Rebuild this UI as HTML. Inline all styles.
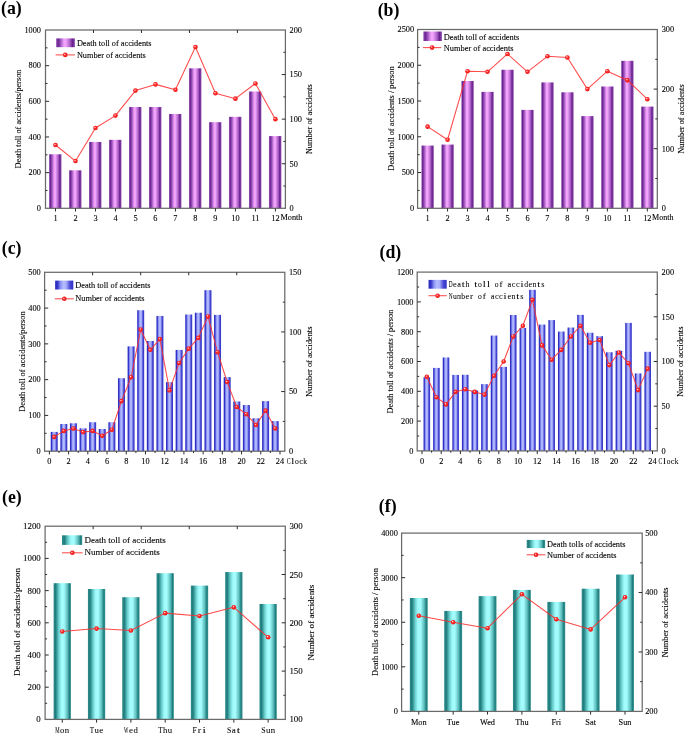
<!DOCTYPE html>
<html><head><meta charset="utf-8"><title>Accident statistics</title><style>html,body{margin:0;padding:0;background:#fff;width:685px;height:735px;overflow:hidden;}svg{display:block;font-family:"Liberation Serif",serif;will-change:transform;}text{stroke:#000;stroke-width:0.1px;}</style></head><body>
<svg width="685" height="735" viewBox="0 0 685 735"><defs><linearGradient id="gP" x1="0" y1="0" x2="1" y2="0"><stop offset="0" stop-color="#a066bc"/><stop offset="0.1" stop-color="#6a2190"/><stop offset="0.2" stop-color="#8c46b0"/><stop offset="0.42" stop-color="#f3a3fb"/><stop offset="0.52" stop-color="#f2a2fa"/><stop offset="0.74" stop-color="#a860c6"/><stop offset="0.87" stop-color="#6a1f8e"/><stop offset="1" stop-color="#9050ae"/></linearGradient><linearGradient id="gB" x1="0" y1="0" x2="1" y2="0"><stop offset="0" stop-color="#3535c8"/><stop offset="0.12" stop-color="#2e2ec4"/><stop offset="0.3" stop-color="#8c94f4"/><stop offset="0.45" stop-color="#b4bcff"/><stop offset="0.6" stop-color="#aab2fc"/><stop offset="0.82" stop-color="#4848d4"/><stop offset="1" stop-color="#3030c4"/></linearGradient><linearGradient id="gT" x1="0" y1="0" x2="1" y2="0"><stop offset="0" stop-color="#2f8c8c"/><stop offset="0.12" stop-color="#1f7d7d"/><stop offset="0.3" stop-color="#6cd0d0"/><stop offset="0.45" stop-color="#a2fbfb"/><stop offset="0.6" stop-color="#a4fcfc"/><stop offset="0.8" stop-color="#5cbcbc"/><stop offset="0.92" stop-color="#1e7e7e"/><stop offset="1" stop-color="#3a9494"/></linearGradient><radialGradient id="gM" cx="0.5" cy="0.5" r="0.5" fx="0.36" fy="0.33"><stop offset="0" stop-color="#fff2f2"/><stop offset="0.2" stop-color="#ff9a9a"/><stop offset="0.42" stop-color="#ff3232"/><stop offset="1" stop-color="#ec1212"/></radialGradient></defs><rect width="685" height="735" fill="#ffffff"/><rect x="49.05" y="154.28" width="12.4" height="54.02" fill="url(#gP)"/>
<rect x="69.04" y="170.32" width="12.4" height="37.98" fill="url(#gP)"/>
<rect x="89.03" y="141.97" width="12.4" height="66.33" fill="url(#gP)"/>
<rect x="109.02" y="139.83" width="12.4" height="68.47" fill="url(#gP)"/>
<rect x="129.01" y="107.03" width="12.4" height="101.27" fill="url(#gP)"/>
<rect x="149" y="107.03" width="12.4" height="101.27" fill="url(#gP)"/>
<rect x="169" y="113.98" width="12.4" height="94.32" fill="url(#gP)"/>
<rect x="188.99" y="68.33" width="12.4" height="139.97" fill="url(#gP)"/>
<rect x="208.98" y="122.18" width="12.4" height="86.12" fill="url(#gP)"/>
<rect x="228.97" y="116.83" width="12.4" height="91.47" fill="url(#gP)"/>
<rect x="248.96" y="91.51" width="12.4" height="116.79" fill="url(#gP)"/>
<rect x="268.95" y="136.09" width="12.4" height="72.21" fill="url(#gP)"/>
<polyline points="55.5,145 75.49,161.05 95.48,128.06 115.47,115.58 135.46,90.62 155.45,84.38 175.45,89.73 195.44,46.94 215.43,93.3 235.42,98.65 255.41,83.49 275.4,119.15" fill="none" stroke="#ff2a2a" stroke-width="1.05" stroke-opacity="0.85" stroke-linejoin="round"/>
<circle cx="55.5" cy="145" r="2.3" fill="url(#gM)"/>
<circle cx="75.49" cy="161.05" r="2.3" fill="url(#gM)"/>
<circle cx="95.48" cy="128.06" r="2.3" fill="url(#gM)"/>
<circle cx="115.47" cy="115.58" r="2.3" fill="url(#gM)"/>
<circle cx="135.46" cy="90.62" r="2.3" fill="url(#gM)"/>
<circle cx="155.45" cy="84.38" r="2.3" fill="url(#gM)"/>
<circle cx="175.45" cy="89.73" r="2.3" fill="url(#gM)"/>
<circle cx="195.44" cy="46.94" r="2.3" fill="url(#gM)"/>
<circle cx="215.43" cy="93.3" r="2.3" fill="url(#gM)"/>
<circle cx="235.42" cy="98.65" r="2.3" fill="url(#gM)"/>
<circle cx="255.41" cy="83.49" r="2.3" fill="url(#gM)"/>
<circle cx="275.4" cy="119.15" r="2.3" fill="url(#gM)"/>
<rect x="45.5" y="30" width="239.9" height="178.3" fill="none" stroke="#6a6a6a" stroke-width="1.25"/>
<text x="41" y="211.12" font-size="8.3" font-family="'Liberation Serif', serif" fill="#000000" text-anchor="end">0</text>
<line x1="45.5" y1="190.47" x2="47.5" y2="190.47" stroke="#2b2b2b" stroke-width="1"/>
<line x1="45.5" y1="172.64" x2="49.1" y2="172.64" stroke="#2b2b2b" stroke-width="1"/>
<text x="41" y="175.46" font-size="8.3" font-family="'Liberation Serif', serif" fill="#000000" text-anchor="end">200</text>
<line x1="45.5" y1="154.81" x2="47.5" y2="154.81" stroke="#2b2b2b" stroke-width="1"/>
<line x1="45.5" y1="136.98" x2="49.1" y2="136.98" stroke="#2b2b2b" stroke-width="1"/>
<text x="41" y="139.8" font-size="8.3" font-family="'Liberation Serif', serif" fill="#000000" text-anchor="end">400</text>
<line x1="45.5" y1="119.15" x2="47.5" y2="119.15" stroke="#2b2b2b" stroke-width="1"/>
<line x1="45.5" y1="101.32" x2="49.1" y2="101.32" stroke="#2b2b2b" stroke-width="1"/>
<text x="41" y="104.14" font-size="8.3" font-family="'Liberation Serif', serif" fill="#000000" text-anchor="end">600</text>
<line x1="45.5" y1="83.49" x2="47.5" y2="83.49" stroke="#2b2b2b" stroke-width="1"/>
<line x1="45.5" y1="65.66" x2="49.1" y2="65.66" stroke="#2b2b2b" stroke-width="1"/>
<text x="41" y="68.48" font-size="8.3" font-family="'Liberation Serif', serif" fill="#000000" text-anchor="end">800</text>
<line x1="45.5" y1="47.83" x2="47.5" y2="47.83" stroke="#2b2b2b" stroke-width="1"/>
<text x="41" y="32.82" font-size="8.3" font-family="'Liberation Serif', serif" fill="#000000" text-anchor="end">1000</text>
<text x="289.5" y="211.12" font-size="8.3" font-family="'Liberation Serif', serif" fill="#000000">0</text>
<line x1="285.4" y1="186.01" x2="283.4" y2="186.01" stroke="#2b2b2b" stroke-width="1"/>
<line x1="285.4" y1="163.73" x2="281.8" y2="163.73" stroke="#2b2b2b" stroke-width="1"/>
<text x="289.5" y="166.55" font-size="8.3" font-family="'Liberation Serif', serif" fill="#000000">50</text>
<line x1="285.4" y1="141.44" x2="283.4" y2="141.44" stroke="#2b2b2b" stroke-width="1"/>
<line x1="285.4" y1="119.15" x2="281.8" y2="119.15" stroke="#2b2b2b" stroke-width="1"/>
<text x="289.5" y="121.97" font-size="8.3" font-family="'Liberation Serif', serif" fill="#000000">100</text>
<line x1="285.4" y1="96.86" x2="283.4" y2="96.86" stroke="#2b2b2b" stroke-width="1"/>
<line x1="285.4" y1="74.57" x2="281.8" y2="74.57" stroke="#2b2b2b" stroke-width="1"/>
<text x="289.5" y="77.4" font-size="8.3" font-family="'Liberation Serif', serif" fill="#000000">150</text>
<line x1="285.4" y1="52.29" x2="283.4" y2="52.29" stroke="#2b2b2b" stroke-width="1"/>
<text x="289.5" y="32.82" font-size="8.3" font-family="'Liberation Serif', serif" fill="#000000">200</text>
<line x1="55.5" y1="208.3" x2="55.5" y2="211.5" stroke="#2b2b2b" stroke-width="1"/>
<text x="55.5" y="220.7" font-size="8.3" font-family="'Liberation Serif', serif" fill="#000000" text-anchor="middle">1</text>
<line x1="75.49" y1="208.3" x2="75.49" y2="211.5" stroke="#2b2b2b" stroke-width="1"/>
<text x="75.49" y="220.7" font-size="8.3" font-family="'Liberation Serif', serif" fill="#000000" text-anchor="middle">2</text>
<line x1="95.48" y1="208.3" x2="95.48" y2="211.5" stroke="#2b2b2b" stroke-width="1"/>
<text x="95.48" y="220.7" font-size="8.3" font-family="'Liberation Serif', serif" fill="#000000" text-anchor="middle">3</text>
<line x1="115.47" y1="208.3" x2="115.47" y2="211.5" stroke="#2b2b2b" stroke-width="1"/>
<text x="115.47" y="220.7" font-size="8.3" font-family="'Liberation Serif', serif" fill="#000000" text-anchor="middle">4</text>
<line x1="135.46" y1="208.3" x2="135.46" y2="211.5" stroke="#2b2b2b" stroke-width="1"/>
<text x="135.46" y="220.7" font-size="8.3" font-family="'Liberation Serif', serif" fill="#000000" text-anchor="middle">5</text>
<line x1="155.45" y1="208.3" x2="155.45" y2="211.5" stroke="#2b2b2b" stroke-width="1"/>
<text x="155.45" y="220.7" font-size="8.3" font-family="'Liberation Serif', serif" fill="#000000" text-anchor="middle">6</text>
<line x1="175.45" y1="208.3" x2="175.45" y2="211.5" stroke="#2b2b2b" stroke-width="1"/>
<text x="175.45" y="220.7" font-size="8.3" font-family="'Liberation Serif', serif" fill="#000000" text-anchor="middle">7</text>
<line x1="195.44" y1="208.3" x2="195.44" y2="211.5" stroke="#2b2b2b" stroke-width="1"/>
<text x="195.44" y="220.7" font-size="8.3" font-family="'Liberation Serif', serif" fill="#000000" text-anchor="middle">8</text>
<line x1="215.43" y1="208.3" x2="215.43" y2="211.5" stroke="#2b2b2b" stroke-width="1"/>
<text x="215.43" y="220.7" font-size="8.3" font-family="'Liberation Serif', serif" fill="#000000" text-anchor="middle">9</text>
<line x1="235.42" y1="208.3" x2="235.42" y2="211.5" stroke="#2b2b2b" stroke-width="1"/>
<text x="235.42" y="220.7" font-size="8.3" font-family="'Liberation Serif', serif" fill="#000000" text-anchor="middle">10</text>
<line x1="255.41" y1="208.3" x2="255.41" y2="211.5" stroke="#2b2b2b" stroke-width="1"/>
<text x="255.41" y="220.7" font-size="8.3" font-family="'Liberation Serif', serif" fill="#000000" text-anchor="middle">11</text>
<line x1="275.4" y1="208.3" x2="275.4" y2="211.5" stroke="#2b2b2b" stroke-width="1"/>
<text x="275.4" y="220.7" font-size="8.3" font-family="'Liberation Serif', serif" fill="#000000" text-anchor="middle">12</text>
<line x1="93.48" y1="30" x2="93.48" y2="33" stroke="#2b2b2b" stroke-width="1"/>
<line x1="141.46" y1="30" x2="141.46" y2="33" stroke="#2b2b2b" stroke-width="1"/>
<line x1="189.44" y1="30" x2="189.44" y2="33" stroke="#2b2b2b" stroke-width="1"/>
<line x1="237.42" y1="30" x2="237.42" y2="33" stroke="#2b2b2b" stroke-width="1"/>
<rect x="56.1" y="38.4" width="18.8" height="8.8" fill="url(#gP)"/>
<line x1="55.6" y1="54.9" x2="74.9" y2="54.9" stroke="#ff2a2a" stroke-width="1.05" stroke-opacity="0.85"/>
<circle cx="65.25" cy="54.9" r="2.3" fill="url(#gM)"/>
<text x="76.9" y="46" font-size="8.3" font-family="'Liberation Serif', serif" fill="#000000" textLength="74.7" lengthAdjust="spacingAndGlyphs">Death toll of accidents</text>
<text x="76.9" y="57.7" font-size="8.3" font-family="'Liberation Serif', serif" fill="#000000" textLength="68.9" lengthAdjust="spacingAndGlyphs">Number of accidents</text>
<text x="21.3" y="119" font-size="8.3" font-family="'Liberation Serif', serif" fill="#000000" text-anchor="middle" textLength="99" lengthAdjust="spacingAndGlyphs" transform="rotate(-90 21.3 119)">Death toll of accidents/person</text>
<text x="311.9" y="119.2" font-size="8.3" font-family="'Liberation Serif', serif" fill="#000000" text-anchor="middle" textLength="70" lengthAdjust="spacingAndGlyphs" transform="rotate(-90 311.9 119.2)">Number of accidents</text>
<text x="280.5" y="220.1" font-size="8.3" font-family="'Liberation Serif', serif" fill="#000000" textLength="22" lengthAdjust="spacingAndGlyphs">Month</text>
<text x="1" y="13.9" font-size="17.8" font-family="'Liberation Serif', serif" fill="#000000" font-weight="bold" style="stroke:none">(a)</text>
<rect x="421.39" y="145.58" width="12.4" height="62.72" fill="url(#gP)"/>
<rect x="441.36" y="144.58" width="12.4" height="63.72" fill="url(#gP)"/>
<rect x="461.34" y="80.99" width="12.4" height="127.31" fill="url(#gP)"/>
<rect x="481.31" y="91.87" width="12.4" height="116.43" fill="url(#gP)"/>
<rect x="501.29" y="69.77" width="12.4" height="138.53" fill="url(#gP)"/>
<rect x="521.26" y="109.89" width="12.4" height="98.41" fill="url(#gP)"/>
<rect x="541.24" y="82.42" width="12.4" height="125.88" fill="url(#gP)"/>
<rect x="561.21" y="92.29" width="12.4" height="116.01" fill="url(#gP)"/>
<rect x="581.19" y="116.11" width="12.4" height="92.19" fill="url(#gP)"/>
<rect x="601.16" y="86.5" width="12.4" height="121.8" fill="url(#gP)"/>
<rect x="621.14" y="60.83" width="12.4" height="147.47" fill="url(#gP)"/>
<rect x="641.11" y="106.6" width="12.4" height="101.7" fill="url(#gP)"/>
<polyline points="427.59,126.65 447.56,139.76 467.54,71.22 487.51,71.82 507.49,53.94 527.46,71.82 547.44,56.32 567.41,57.51 587.39,89.1 607.36,71.22 627.34,80.16 647.31,99.23" fill="none" stroke="#ff2a2a" stroke-width="1.05" stroke-opacity="0.85" stroke-linejoin="round"/>
<circle cx="427.59" cy="126.65" r="2.3" fill="url(#gM)"/>
<circle cx="447.56" cy="139.76" r="2.3" fill="url(#gM)"/>
<circle cx="467.54" cy="71.22" r="2.3" fill="url(#gM)"/>
<circle cx="487.51" cy="71.82" r="2.3" fill="url(#gM)"/>
<circle cx="507.49" cy="53.94" r="2.3" fill="url(#gM)"/>
<circle cx="527.46" cy="71.82" r="2.3" fill="url(#gM)"/>
<circle cx="547.44" cy="56.32" r="2.3" fill="url(#gM)"/>
<circle cx="567.41" cy="57.51" r="2.3" fill="url(#gM)"/>
<circle cx="587.39" cy="89.1" r="2.3" fill="url(#gM)"/>
<circle cx="607.36" cy="71.22" r="2.3" fill="url(#gM)"/>
<circle cx="627.34" cy="80.16" r="2.3" fill="url(#gM)"/>
<circle cx="647.31" cy="99.23" r="2.3" fill="url(#gM)"/>
<rect x="417.6" y="29.5" width="239.7" height="178.8" fill="none" stroke="#6a6a6a" stroke-width="1.25"/>
<text x="414.1" y="211.12" font-size="8.3" font-family="'Liberation Serif', serif" fill="#000000" text-anchor="end">0</text>
<line x1="417.6" y1="190.42" x2="419.6" y2="190.42" stroke="#2b2b2b" stroke-width="1"/>
<line x1="417.6" y1="172.54" x2="421.2" y2="172.54" stroke="#2b2b2b" stroke-width="1"/>
<text x="414.1" y="175.36" font-size="8.3" font-family="'Liberation Serif', serif" fill="#000000" text-anchor="end">500</text>
<line x1="417.6" y1="154.66" x2="419.6" y2="154.66" stroke="#2b2b2b" stroke-width="1"/>
<line x1="417.6" y1="136.78" x2="421.2" y2="136.78" stroke="#2b2b2b" stroke-width="1"/>
<text x="414.1" y="139.6" font-size="8.3" font-family="'Liberation Serif', serif" fill="#000000" text-anchor="end">1000</text>
<line x1="417.6" y1="118.9" x2="419.6" y2="118.9" stroke="#2b2b2b" stroke-width="1"/>
<line x1="417.6" y1="101.02" x2="421.2" y2="101.02" stroke="#2b2b2b" stroke-width="1"/>
<text x="414.1" y="103.84" font-size="8.3" font-family="'Liberation Serif', serif" fill="#000000" text-anchor="end">1500</text>
<line x1="417.6" y1="83.14" x2="419.6" y2="83.14" stroke="#2b2b2b" stroke-width="1"/>
<line x1="417.6" y1="65.26" x2="421.2" y2="65.26" stroke="#2b2b2b" stroke-width="1"/>
<text x="414.1" y="68.08" font-size="8.3" font-family="'Liberation Serif', serif" fill="#000000" text-anchor="end">2000</text>
<line x1="417.6" y1="47.38" x2="419.6" y2="47.38" stroke="#2b2b2b" stroke-width="1"/>
<text x="414.1" y="32.32" font-size="8.3" font-family="'Liberation Serif', serif" fill="#000000" text-anchor="end">2500</text>
<text x="661.7" y="211.12" font-size="8.3" font-family="'Liberation Serif', serif" fill="#000000">0</text>
<line x1="657.3" y1="178.5" x2="655.3" y2="178.5" stroke="#2b2b2b" stroke-width="1"/>
<line x1="657.3" y1="148.7" x2="653.7" y2="148.7" stroke="#2b2b2b" stroke-width="1"/>
<text x="661.7" y="151.52" font-size="8.3" font-family="'Liberation Serif', serif" fill="#000000">100</text>
<line x1="657.3" y1="118.9" x2="655.3" y2="118.9" stroke="#2b2b2b" stroke-width="1"/>
<line x1="657.3" y1="89.1" x2="653.7" y2="89.1" stroke="#2b2b2b" stroke-width="1"/>
<text x="661.7" y="91.92" font-size="8.3" font-family="'Liberation Serif', serif" fill="#000000">200</text>
<line x1="657.3" y1="59.3" x2="655.3" y2="59.3" stroke="#2b2b2b" stroke-width="1"/>
<text x="661.7" y="32.32" font-size="8.3" font-family="'Liberation Serif', serif" fill="#000000">300</text>
<line x1="427.59" y1="208.3" x2="427.59" y2="211.5" stroke="#2b2b2b" stroke-width="1"/>
<text x="427.59" y="220.7" font-size="8.3" font-family="'Liberation Serif', serif" fill="#000000" text-anchor="middle">1</text>
<line x1="447.56" y1="208.3" x2="447.56" y2="211.5" stroke="#2b2b2b" stroke-width="1"/>
<text x="447.56" y="220.7" font-size="8.3" font-family="'Liberation Serif', serif" fill="#000000" text-anchor="middle">2</text>
<line x1="467.54" y1="208.3" x2="467.54" y2="211.5" stroke="#2b2b2b" stroke-width="1"/>
<text x="467.54" y="220.7" font-size="8.3" font-family="'Liberation Serif', serif" fill="#000000" text-anchor="middle">3</text>
<line x1="487.51" y1="208.3" x2="487.51" y2="211.5" stroke="#2b2b2b" stroke-width="1"/>
<text x="487.51" y="220.7" font-size="8.3" font-family="'Liberation Serif', serif" fill="#000000" text-anchor="middle">4</text>
<line x1="507.49" y1="208.3" x2="507.49" y2="211.5" stroke="#2b2b2b" stroke-width="1"/>
<text x="507.49" y="220.7" font-size="8.3" font-family="'Liberation Serif', serif" fill="#000000" text-anchor="middle">5</text>
<line x1="527.46" y1="208.3" x2="527.46" y2="211.5" stroke="#2b2b2b" stroke-width="1"/>
<text x="527.46" y="220.7" font-size="8.3" font-family="'Liberation Serif', serif" fill="#000000" text-anchor="middle">6</text>
<line x1="547.44" y1="208.3" x2="547.44" y2="211.5" stroke="#2b2b2b" stroke-width="1"/>
<text x="547.44" y="220.7" font-size="8.3" font-family="'Liberation Serif', serif" fill="#000000" text-anchor="middle">7</text>
<line x1="567.41" y1="208.3" x2="567.41" y2="211.5" stroke="#2b2b2b" stroke-width="1"/>
<text x="567.41" y="220.7" font-size="8.3" font-family="'Liberation Serif', serif" fill="#000000" text-anchor="middle">8</text>
<line x1="587.39" y1="208.3" x2="587.39" y2="211.5" stroke="#2b2b2b" stroke-width="1"/>
<text x="587.39" y="220.7" font-size="8.3" font-family="'Liberation Serif', serif" fill="#000000" text-anchor="middle">9</text>
<line x1="607.36" y1="208.3" x2="607.36" y2="211.5" stroke="#2b2b2b" stroke-width="1"/>
<text x="607.36" y="220.7" font-size="8.3" font-family="'Liberation Serif', serif" fill="#000000" text-anchor="middle">10</text>
<line x1="627.34" y1="208.3" x2="627.34" y2="211.5" stroke="#2b2b2b" stroke-width="1"/>
<text x="627.34" y="220.7" font-size="8.3" font-family="'Liberation Serif', serif" fill="#000000" text-anchor="middle">11</text>
<line x1="647.31" y1="208.3" x2="647.31" y2="211.5" stroke="#2b2b2b" stroke-width="1"/>
<text x="647.31" y="220.7" font-size="8.3" font-family="'Liberation Serif', serif" fill="#000000" text-anchor="middle">12</text>
<rect x="423.3" y="31.5" width="18.6" height="9.5" fill="url(#gP)"/>
<line x1="422.9" y1="47.6" x2="441.3" y2="47.6" stroke="#ff2a2a" stroke-width="1.05" stroke-opacity="0.85"/>
<circle cx="432.1" cy="47.6" r="2.3" fill="url(#gM)"/>
<text x="443.8" y="39.5" font-size="8.3" font-family="'Liberation Serif', serif" fill="#000000" textLength="75.5" lengthAdjust="spacingAndGlyphs">Death toll of accidents</text>
<text x="443.8" y="50.5" font-size="8.3" font-family="'Liberation Serif', serif" fill="#000000" textLength="69.8" lengthAdjust="spacingAndGlyphs">Number of accidents</text>
<text x="393.8" y="118.5" font-size="8.3" font-family="'Liberation Serif', serif" fill="#000000" text-anchor="middle" textLength="104.3" lengthAdjust="spacingAndGlyphs" transform="rotate(-90 393.8 118.5)">Death toll of accidents / person</text>
<text x="683.7" y="119" font-size="8.3" font-family="'Liberation Serif', serif" fill="#000000" text-anchor="middle" textLength="69.3" lengthAdjust="spacingAndGlyphs" transform="rotate(-90 683.7 119)">Number of accidents</text>
<text x="652" y="220.1" font-size="8.3" font-family="'Liberation Serif', serif" fill="#000000" textLength="21.5" lengthAdjust="spacingAndGlyphs">Month</text>
<text x="377.7" y="15.7" font-size="17.8" font-family="'Liberation Serif', serif" fill="#000000" font-weight="bold" style="stroke:none">(b)</text>
<rect x="50.71" y="431.88" width="7" height="19.32" fill="url(#gB)"/>
<rect x="60.32" y="424.01" width="7" height="27.19" fill="url(#gB)"/>
<rect x="69.92" y="423.29" width="7" height="27.91" fill="url(#gB)"/>
<rect x="79.53" y="428.3" width="7" height="22.9" fill="url(#gB)"/>
<rect x="89.14" y="422.22" width="7" height="28.98" fill="url(#gB)"/>
<rect x="98.75" y="429.02" width="7" height="22.18" fill="url(#gB)"/>
<rect x="108.36" y="422.22" width="7" height="28.98" fill="url(#gB)"/>
<rect x="117.96" y="378.21" width="7" height="72.99" fill="url(#gB)"/>
<rect x="127.57" y="346.36" width="7" height="104.84" fill="url(#gB)"/>
<rect x="137.18" y="310.23" width="7" height="140.97" fill="url(#gB)"/>
<rect x="146.79" y="341" width="7" height="110.2" fill="url(#gB)"/>
<rect x="156.4" y="315.95" width="7" height="135.25" fill="url(#gB)"/>
<rect x="166" y="382.14" width="7" height="69.06" fill="url(#gB)"/>
<rect x="175.61" y="349.94" width="7" height="101.26" fill="url(#gB)"/>
<rect x="185.22" y="314.52" width="7" height="136.68" fill="url(#gB)"/>
<rect x="194.83" y="312.73" width="7" height="138.47" fill="url(#gB)"/>
<rect x="204.44" y="290.19" width="7" height="161.01" fill="url(#gB)"/>
<rect x="214.04" y="314.88" width="7" height="136.32" fill="url(#gB)"/>
<rect x="223.65" y="377.14" width="7" height="74.06" fill="url(#gB)"/>
<rect x="233.26" y="401.47" width="7" height="49.73" fill="url(#gB)"/>
<rect x="242.87" y="405.04" width="7" height="46.16" fill="url(#gB)"/>
<rect x="252.48" y="418.28" width="7" height="32.92" fill="url(#gB)"/>
<rect x="262.08" y="401.11" width="7" height="50.09" fill="url(#gB)"/>
<rect x="271.69" y="421.14" width="7" height="30.06" fill="url(#gB)"/>
<polyline points="54.21,436.89 63.82,430.92 73.42,428.54 83.03,432.12 92.64,430.92 102.25,435.7 111.86,429.73 121.46,401.11 131.07,377.25 140.68,329.55 150.29,349.82 159.9,339.09 169.5,390.37 179.11,362.94 188.72,348.63 198.33,337.9 207.94,316.43 217.54,352.21 227.15,382.03 236.76,407.07 246.37,414.23 255.98,424.96 265.58,410.65 275.19,428.54" fill="none" stroke="#ff2a2a" stroke-width="1.05" stroke-opacity="0.85" stroke-linejoin="round"/>
<circle cx="54.21" cy="436.89" r="2.3" fill="url(#gM)"/>
<circle cx="63.82" cy="430.92" r="2.3" fill="url(#gM)"/>
<circle cx="73.42" cy="428.54" r="2.3" fill="url(#gM)"/>
<circle cx="83.03" cy="432.12" r="2.3" fill="url(#gM)"/>
<circle cx="92.64" cy="430.92" r="2.3" fill="url(#gM)"/>
<circle cx="102.25" cy="435.7" r="2.3" fill="url(#gM)"/>
<circle cx="111.86" cy="429.73" r="2.3" fill="url(#gM)"/>
<circle cx="121.46" cy="401.11" r="2.3" fill="url(#gM)"/>
<circle cx="131.07" cy="377.25" r="2.3" fill="url(#gM)"/>
<circle cx="140.68" cy="329.55" r="2.3" fill="url(#gM)"/>
<circle cx="150.29" cy="349.82" r="2.3" fill="url(#gM)"/>
<circle cx="159.9" cy="339.09" r="2.3" fill="url(#gM)"/>
<circle cx="169.5" cy="390.37" r="2.3" fill="url(#gM)"/>
<circle cx="179.11" cy="362.94" r="2.3" fill="url(#gM)"/>
<circle cx="188.72" cy="348.63" r="2.3" fill="url(#gM)"/>
<circle cx="198.33" cy="337.9" r="2.3" fill="url(#gM)"/>
<circle cx="207.94" cy="316.43" r="2.3" fill="url(#gM)"/>
<circle cx="217.54" cy="352.21" r="2.3" fill="url(#gM)"/>
<circle cx="227.15" cy="382.03" r="2.3" fill="url(#gM)"/>
<circle cx="236.76" cy="407.07" r="2.3" fill="url(#gM)"/>
<circle cx="246.37" cy="414.23" r="2.3" fill="url(#gM)"/>
<circle cx="255.98" cy="424.96" r="2.3" fill="url(#gM)"/>
<circle cx="265.58" cy="410.65" r="2.3" fill="url(#gM)"/>
<circle cx="275.19" cy="428.54" r="2.3" fill="url(#gM)"/>
<rect x="44.6" y="272.3" width="240.2" height="178.9" fill="none" stroke="#6a6a6a" stroke-width="1.25"/>
<text x="40.7" y="454.02" font-size="8.3" font-family="'Liberation Serif', serif" fill="#000000" text-anchor="end">0</text>
<line x1="44.6" y1="433.31" x2="46.6" y2="433.31" stroke="#2b2b2b" stroke-width="1"/>
<line x1="44.6" y1="415.42" x2="48.2" y2="415.42" stroke="#2b2b2b" stroke-width="1"/>
<text x="40.7" y="418.24" font-size="8.3" font-family="'Liberation Serif', serif" fill="#000000" text-anchor="end">100</text>
<line x1="44.6" y1="397.53" x2="46.6" y2="397.53" stroke="#2b2b2b" stroke-width="1"/>
<line x1="44.6" y1="379.64" x2="48.2" y2="379.64" stroke="#2b2b2b" stroke-width="1"/>
<text x="40.7" y="382.46" font-size="8.3" font-family="'Liberation Serif', serif" fill="#000000" text-anchor="end">200</text>
<line x1="44.6" y1="361.75" x2="46.6" y2="361.75" stroke="#2b2b2b" stroke-width="1"/>
<line x1="44.6" y1="343.86" x2="48.2" y2="343.86" stroke="#2b2b2b" stroke-width="1"/>
<text x="40.7" y="346.68" font-size="8.3" font-family="'Liberation Serif', serif" fill="#000000" text-anchor="end">300</text>
<line x1="44.6" y1="325.97" x2="46.6" y2="325.97" stroke="#2b2b2b" stroke-width="1"/>
<line x1="44.6" y1="308.08" x2="48.2" y2="308.08" stroke="#2b2b2b" stroke-width="1"/>
<text x="40.7" y="310.9" font-size="8.3" font-family="'Liberation Serif', serif" fill="#000000" text-anchor="end">400</text>
<line x1="44.6" y1="290.19" x2="46.6" y2="290.19" stroke="#2b2b2b" stroke-width="1"/>
<text x="40.7" y="275.12" font-size="8.3" font-family="'Liberation Serif', serif" fill="#000000" text-anchor="end">500</text>
<text x="288.9" y="454.02" font-size="8.3" font-family="'Liberation Serif', serif" fill="#000000">0</text>
<line x1="284.8" y1="421.38" x2="282.8" y2="421.38" stroke="#2b2b2b" stroke-width="1"/>
<line x1="284.8" y1="391.57" x2="281.2" y2="391.57" stroke="#2b2b2b" stroke-width="1"/>
<text x="288.9" y="394.39" font-size="8.3" font-family="'Liberation Serif', serif" fill="#000000">50</text>
<line x1="284.8" y1="361.75" x2="282.8" y2="361.75" stroke="#2b2b2b" stroke-width="1"/>
<line x1="284.8" y1="331.93" x2="281.2" y2="331.93" stroke="#2b2b2b" stroke-width="1"/>
<text x="288.9" y="334.76" font-size="8.3" font-family="'Liberation Serif', serif" fill="#000000">100</text>
<line x1="284.8" y1="302.12" x2="282.8" y2="302.12" stroke="#2b2b2b" stroke-width="1"/>
<text x="288.9" y="275.12" font-size="8.3" font-family="'Liberation Serif', serif" fill="#000000">150</text>
<line x1="49.4" y1="451.2" x2="49.4" y2="454.4" stroke="#2b2b2b" stroke-width="1"/>
<text x="49.4" y="463.6" font-size="8.3" font-family="'Liberation Serif', serif" fill="#000000" text-anchor="middle">0</text>
<line x1="68.62" y1="451.2" x2="68.62" y2="454.4" stroke="#2b2b2b" stroke-width="1"/>
<text x="68.62" y="463.6" font-size="8.3" font-family="'Liberation Serif', serif" fill="#000000" text-anchor="middle">2</text>
<line x1="87.84" y1="451.2" x2="87.84" y2="454.4" stroke="#2b2b2b" stroke-width="1"/>
<text x="87.84" y="463.6" font-size="8.3" font-family="'Liberation Serif', serif" fill="#000000" text-anchor="middle">4</text>
<line x1="107.05" y1="451.2" x2="107.05" y2="454.4" stroke="#2b2b2b" stroke-width="1"/>
<text x="107.05" y="463.6" font-size="8.3" font-family="'Liberation Serif', serif" fill="#000000" text-anchor="middle">6</text>
<line x1="126.27" y1="451.2" x2="126.27" y2="454.4" stroke="#2b2b2b" stroke-width="1"/>
<text x="126.27" y="463.6" font-size="8.3" font-family="'Liberation Serif', serif" fill="#000000" text-anchor="middle">8</text>
<line x1="145.48" y1="451.2" x2="145.48" y2="454.4" stroke="#2b2b2b" stroke-width="1"/>
<text x="145.48" y="463.6" font-size="8.3" font-family="'Liberation Serif', serif" fill="#000000" text-anchor="middle">10</text>
<line x1="164.7" y1="451.2" x2="164.7" y2="454.4" stroke="#2b2b2b" stroke-width="1"/>
<text x="164.7" y="463.6" font-size="8.3" font-family="'Liberation Serif', serif" fill="#000000" text-anchor="middle">12</text>
<line x1="183.92" y1="451.2" x2="183.92" y2="454.4" stroke="#2b2b2b" stroke-width="1"/>
<text x="183.92" y="463.6" font-size="8.3" font-family="'Liberation Serif', serif" fill="#000000" text-anchor="middle">14</text>
<line x1="203.13" y1="451.2" x2="203.13" y2="454.4" stroke="#2b2b2b" stroke-width="1"/>
<text x="203.13" y="463.6" font-size="8.3" font-family="'Liberation Serif', serif" fill="#000000" text-anchor="middle">16</text>
<line x1="222.35" y1="451.2" x2="222.35" y2="454.4" stroke="#2b2b2b" stroke-width="1"/>
<text x="222.35" y="463.6" font-size="8.3" font-family="'Liberation Serif', serif" fill="#000000" text-anchor="middle">18</text>
<line x1="241.56" y1="451.2" x2="241.56" y2="454.4" stroke="#2b2b2b" stroke-width="1"/>
<text x="241.56" y="463.6" font-size="8.3" font-family="'Liberation Serif', serif" fill="#000000" text-anchor="middle">20</text>
<line x1="260.78" y1="451.2" x2="260.78" y2="454.4" stroke="#2b2b2b" stroke-width="1"/>
<text x="260.78" y="463.6" font-size="8.3" font-family="'Liberation Serif', serif" fill="#000000" text-anchor="middle">22</text>
<line x1="280" y1="451.2" x2="280" y2="454.4" stroke="#2b2b2b" stroke-width="1"/>
<text x="280" y="463.6" font-size="8.3" font-family="'Liberation Serif', serif" fill="#000000" text-anchor="middle">24</text>
<line x1="59.01" y1="451.2" x2="59.01" y2="453" stroke="#2b2b2b" stroke-width="1"/>
<line x1="78.23" y1="451.2" x2="78.23" y2="453" stroke="#2b2b2b" stroke-width="1"/>
<line x1="97.44" y1="451.2" x2="97.44" y2="453" stroke="#2b2b2b" stroke-width="1"/>
<line x1="116.66" y1="451.2" x2="116.66" y2="453" stroke="#2b2b2b" stroke-width="1"/>
<line x1="135.88" y1="451.2" x2="135.88" y2="453" stroke="#2b2b2b" stroke-width="1"/>
<line x1="155.09" y1="451.2" x2="155.09" y2="453" stroke="#2b2b2b" stroke-width="1"/>
<line x1="174.31" y1="451.2" x2="174.31" y2="453" stroke="#2b2b2b" stroke-width="1"/>
<line x1="193.52" y1="451.2" x2="193.52" y2="453" stroke="#2b2b2b" stroke-width="1"/>
<line x1="212.74" y1="451.2" x2="212.74" y2="453" stroke="#2b2b2b" stroke-width="1"/>
<line x1="231.96" y1="451.2" x2="231.96" y2="453" stroke="#2b2b2b" stroke-width="1"/>
<line x1="251.17" y1="451.2" x2="251.17" y2="453" stroke="#2b2b2b" stroke-width="1"/>
<line x1="270.39" y1="451.2" x2="270.39" y2="453" stroke="#2b2b2b" stroke-width="1"/>
<line x1="92.64" y1="272.3" x2="92.64" y2="275.3" stroke="#2b2b2b" stroke-width="1"/>
<line x1="140.68" y1="272.3" x2="140.68" y2="275.3" stroke="#2b2b2b" stroke-width="1"/>
<line x1="188.72" y1="272.3" x2="188.72" y2="275.3" stroke="#2b2b2b" stroke-width="1"/>
<line x1="236.76" y1="272.3" x2="236.76" y2="275.3" stroke="#2b2b2b" stroke-width="1"/>
<rect x="55.1" y="280.6" width="18.2" height="8.9" fill="url(#gB)"/>
<line x1="54.8" y1="298.8" x2="73.8" y2="298.8" stroke="#ff2a2a" stroke-width="1.05" stroke-opacity="0.85"/>
<circle cx="64.3" cy="298.8" r="2.3" fill="url(#gM)"/>
<text x="75.3" y="287.8" font-size="8.3" font-family="'Liberation Serif', serif" fill="#000000" textLength="75.2" lengthAdjust="spacingAndGlyphs">Death toll of accidents</text>
<text x="75.3" y="301" font-size="8.3" font-family="'Liberation Serif', serif" fill="#000000" textLength="69.3" lengthAdjust="spacingAndGlyphs">Number of accidents</text>
<text x="25.5" y="361.6" font-size="8.3" font-family="'Liberation Serif', serif" fill="#000000" text-anchor="middle" textLength="100.4" lengthAdjust="spacingAndGlyphs" transform="rotate(-90 25.5 361.6)">Death toll of accidents/person</text>
<text x="311.9" y="361.7" font-size="8.3" font-family="'Liberation Serif', serif" fill="#000000" text-anchor="middle" textLength="70.4" lengthAdjust="spacingAndGlyphs" transform="rotate(-90 311.9 361.7)">Number of accidents</text>
<text x="286.67" y="464" font-size="8.4" font-family="'Liberation Serif', serif" fill="#000000" style="stroke-width:0.05px" textLength="3.82" lengthAdjust="spacingAndGlyphs">C</text>
<text x="291.23" y="464" font-size="8.4" font-family="'Liberation Serif', serif" fill="#000000" style="stroke-width:0.05px" textLength="2.99" lengthAdjust="spacingAndGlyphs">l</text>
<text x="294.97" y="464" font-size="8.4" font-family="'Liberation Serif', serif" fill="#000000" style="stroke-width:0.05px" textLength="3.82" lengthAdjust="spacingAndGlyphs">o</text>
<text x="299.16" y="464" font-size="8.4" font-family="'Liberation Serif', serif" fill="#000000" style="stroke-width:0.05px">c</text>
<text x="303.27" y="464" font-size="8.4" font-family="'Liberation Serif', serif" fill="#000000" style="stroke-width:0.05px" textLength="3.82" lengthAdjust="spacingAndGlyphs">k</text>
<text x="1.8" y="254.2" font-size="17.8" font-family="'Liberation Serif', serif" fill="#000000" font-weight="bold" style="stroke:none">(c)</text>
<rect x="423.5" y="377.29" width="6.6" height="73.61" fill="url(#gB)"/>
<rect x="433.11" y="367.91" width="6.6" height="82.99" fill="url(#gB)"/>
<rect x="442.71" y="357.48" width="6.6" height="93.42" fill="url(#gB)"/>
<rect x="452.32" y="374.91" width="6.6" height="75.99" fill="url(#gB)"/>
<rect x="461.92" y="374.76" width="6.6" height="76.14" fill="url(#gB)"/>
<rect x="471.52" y="390.56" width="6.6" height="60.34" fill="url(#gB)"/>
<rect x="481.13" y="384.15" width="6.6" height="66.75" fill="url(#gB)"/>
<rect x="490.73" y="335.57" width="6.6" height="115.33" fill="url(#gB)"/>
<rect x="500.34" y="366.86" width="6.6" height="84.04" fill="url(#gB)"/>
<rect x="509.94" y="315.01" width="6.6" height="135.89" fill="url(#gB)"/>
<rect x="519.54" y="327.98" width="6.6" height="122.92" fill="url(#gB)"/>
<rect x="529.15" y="289.83" width="6.6" height="161.07" fill="url(#gB)"/>
<rect x="538.75" y="324.55" width="6.6" height="126.35" fill="url(#gB)"/>
<rect x="548.36" y="320.08" width="6.6" height="130.82" fill="url(#gB)"/>
<rect x="557.96" y="331.55" width="6.6" height="119.35" fill="url(#gB)"/>
<rect x="567.56" y="327.53" width="6.6" height="123.37" fill="url(#gB)"/>
<rect x="577.17" y="314.86" width="6.6" height="136.04" fill="url(#gB)"/>
<rect x="586.77" y="332.74" width="6.6" height="118.16" fill="url(#gB)"/>
<rect x="596.38" y="336.17" width="6.6" height="114.73" fill="url(#gB)"/>
<rect x="605.98" y="352.26" width="6.6" height="98.64" fill="url(#gB)"/>
<rect x="615.58" y="350.77" width="6.6" height="100.13" fill="url(#gB)"/>
<rect x="625.19" y="322.91" width="6.6" height="127.99" fill="url(#gB)"/>
<rect x="634.79" y="373.42" width="6.6" height="77.48" fill="url(#gB)"/>
<rect x="644.4" y="351.81" width="6.6" height="99.08" fill="url(#gB)"/>
<polyline points="426.8,376.7 436.41,397.26 446.01,404.41 455.62,391.9 465.22,389.21 474.82,391.9 484.43,394.58 494.03,375.8 503.64,361.5 513.24,336.47 522.84,325.74 532.45,299.81 542.05,345.41 551.66,359.71 561.26,349.88 570.86,336.47 580.47,325.74 590.07,342.73 599.68,340.04 609.28,365.08 618.88,352.56 628.49,363.29 638.09,390.11 647.7,368.65" fill="none" stroke="#ff2a2a" stroke-width="1.05" stroke-opacity="0.85" stroke-linejoin="round"/>
<circle cx="426.8" cy="376.7" r="2.3" fill="url(#gM)"/>
<circle cx="436.41" cy="397.26" r="2.3" fill="url(#gM)"/>
<circle cx="446.01" cy="404.41" r="2.3" fill="url(#gM)"/>
<circle cx="455.62" cy="391.9" r="2.3" fill="url(#gM)"/>
<circle cx="465.22" cy="389.21" r="2.3" fill="url(#gM)"/>
<circle cx="474.82" cy="391.9" r="2.3" fill="url(#gM)"/>
<circle cx="484.43" cy="394.58" r="2.3" fill="url(#gM)"/>
<circle cx="494.03" cy="375.8" r="2.3" fill="url(#gM)"/>
<circle cx="503.64" cy="361.5" r="2.3" fill="url(#gM)"/>
<circle cx="513.24" cy="336.47" r="2.3" fill="url(#gM)"/>
<circle cx="522.84" cy="325.74" r="2.3" fill="url(#gM)"/>
<circle cx="532.45" cy="299.81" r="2.3" fill="url(#gM)"/>
<circle cx="542.05" cy="345.41" r="2.3" fill="url(#gM)"/>
<circle cx="551.66" cy="359.71" r="2.3" fill="url(#gM)"/>
<circle cx="561.26" cy="349.88" r="2.3" fill="url(#gM)"/>
<circle cx="570.86" cy="336.47" r="2.3" fill="url(#gM)"/>
<circle cx="580.47" cy="325.74" r="2.3" fill="url(#gM)"/>
<circle cx="590.07" cy="342.73" r="2.3" fill="url(#gM)"/>
<circle cx="599.68" cy="340.04" r="2.3" fill="url(#gM)"/>
<circle cx="609.28" cy="365.08" r="2.3" fill="url(#gM)"/>
<circle cx="618.88" cy="352.56" r="2.3" fill="url(#gM)"/>
<circle cx="628.49" cy="363.29" r="2.3" fill="url(#gM)"/>
<circle cx="638.09" cy="390.11" r="2.3" fill="url(#gM)"/>
<circle cx="647.7" cy="368.65" r="2.3" fill="url(#gM)"/>
<rect x="417.2" y="272.1" width="240.1" height="178.8" fill="none" stroke="#6a6a6a" stroke-width="1.25"/>
<text x="413.5" y="453.72" font-size="8.3" font-family="'Liberation Serif', serif" fill="#000000" text-anchor="end">0</text>
<line x1="417.2" y1="436" x2="419.2" y2="436" stroke="#2b2b2b" stroke-width="1"/>
<line x1="417.2" y1="421.1" x2="420.8" y2="421.1" stroke="#2b2b2b" stroke-width="1"/>
<text x="413.5" y="423.92" font-size="8.3" font-family="'Liberation Serif', serif" fill="#000000" text-anchor="end">200</text>
<line x1="417.2" y1="406.2" x2="419.2" y2="406.2" stroke="#2b2b2b" stroke-width="1"/>
<line x1="417.2" y1="391.3" x2="420.8" y2="391.3" stroke="#2b2b2b" stroke-width="1"/>
<text x="413.5" y="394.12" font-size="8.3" font-family="'Liberation Serif', serif" fill="#000000" text-anchor="end">400</text>
<line x1="417.2" y1="376.4" x2="419.2" y2="376.4" stroke="#2b2b2b" stroke-width="1"/>
<line x1="417.2" y1="361.5" x2="420.8" y2="361.5" stroke="#2b2b2b" stroke-width="1"/>
<text x="413.5" y="364.32" font-size="8.3" font-family="'Liberation Serif', serif" fill="#000000" text-anchor="end">600</text>
<line x1="417.2" y1="346.6" x2="419.2" y2="346.6" stroke="#2b2b2b" stroke-width="1"/>
<line x1="417.2" y1="331.7" x2="420.8" y2="331.7" stroke="#2b2b2b" stroke-width="1"/>
<text x="413.5" y="334.52" font-size="8.3" font-family="'Liberation Serif', serif" fill="#000000" text-anchor="end">800</text>
<line x1="417.2" y1="316.8" x2="419.2" y2="316.8" stroke="#2b2b2b" stroke-width="1"/>
<line x1="417.2" y1="301.9" x2="420.8" y2="301.9" stroke="#2b2b2b" stroke-width="1"/>
<text x="413.5" y="304.72" font-size="8.3" font-family="'Liberation Serif', serif" fill="#000000" text-anchor="end">1000</text>
<line x1="417.2" y1="287" x2="419.2" y2="287" stroke="#2b2b2b" stroke-width="1"/>
<text x="413.5" y="274.92" font-size="8.3" font-family="'Liberation Serif', serif" fill="#000000" text-anchor="end">1200</text>
<text x="661.6" y="453.72" font-size="8.3" font-family="'Liberation Serif', serif" fill="#000000">0</text>
<line x1="657.3" y1="428.55" x2="655.3" y2="428.55" stroke="#2b2b2b" stroke-width="1"/>
<line x1="657.3" y1="406.2" x2="653.7" y2="406.2" stroke="#2b2b2b" stroke-width="1"/>
<text x="661.6" y="409.02" font-size="8.3" font-family="'Liberation Serif', serif" fill="#000000">50</text>
<line x1="657.3" y1="383.85" x2="655.3" y2="383.85" stroke="#2b2b2b" stroke-width="1"/>
<line x1="657.3" y1="361.5" x2="653.7" y2="361.5" stroke="#2b2b2b" stroke-width="1"/>
<text x="661.6" y="364.32" font-size="8.3" font-family="'Liberation Serif', serif" fill="#000000">100</text>
<line x1="657.3" y1="339.15" x2="655.3" y2="339.15" stroke="#2b2b2b" stroke-width="1"/>
<line x1="657.3" y1="316.8" x2="653.7" y2="316.8" stroke="#2b2b2b" stroke-width="1"/>
<text x="661.6" y="319.62" font-size="8.3" font-family="'Liberation Serif', serif" fill="#000000">150</text>
<line x1="657.3" y1="294.45" x2="655.3" y2="294.45" stroke="#2b2b2b" stroke-width="1"/>
<text x="661.6" y="274.92" font-size="8.3" font-family="'Liberation Serif', serif" fill="#000000">200</text>
<line x1="422" y1="450.9" x2="422" y2="454.1" stroke="#2b2b2b" stroke-width="1"/>
<text x="422" y="463.6" font-size="8.3" font-family="'Liberation Serif', serif" fill="#000000" text-anchor="middle">0</text>
<line x1="441.21" y1="450.9" x2="441.21" y2="454.1" stroke="#2b2b2b" stroke-width="1"/>
<text x="441.21" y="463.6" font-size="8.3" font-family="'Liberation Serif', serif" fill="#000000" text-anchor="middle">2</text>
<line x1="460.42" y1="450.9" x2="460.42" y2="454.1" stroke="#2b2b2b" stroke-width="1"/>
<text x="460.42" y="463.6" font-size="8.3" font-family="'Liberation Serif', serif" fill="#000000" text-anchor="middle">4</text>
<line x1="479.63" y1="450.9" x2="479.63" y2="454.1" stroke="#2b2b2b" stroke-width="1"/>
<text x="479.63" y="463.6" font-size="8.3" font-family="'Liberation Serif', serif" fill="#000000" text-anchor="middle">6</text>
<line x1="498.83" y1="450.9" x2="498.83" y2="454.1" stroke="#2b2b2b" stroke-width="1"/>
<text x="498.83" y="463.6" font-size="8.3" font-family="'Liberation Serif', serif" fill="#000000" text-anchor="middle">8</text>
<line x1="518.04" y1="450.9" x2="518.04" y2="454.1" stroke="#2b2b2b" stroke-width="1"/>
<text x="518.04" y="463.6" font-size="8.3" font-family="'Liberation Serif', serif" fill="#000000" text-anchor="middle">10</text>
<line x1="537.25" y1="450.9" x2="537.25" y2="454.1" stroke="#2b2b2b" stroke-width="1"/>
<text x="537.25" y="463.6" font-size="8.3" font-family="'Liberation Serif', serif" fill="#000000" text-anchor="middle">12</text>
<line x1="556.46" y1="450.9" x2="556.46" y2="454.1" stroke="#2b2b2b" stroke-width="1"/>
<text x="556.46" y="463.6" font-size="8.3" font-family="'Liberation Serif', serif" fill="#000000" text-anchor="middle">14</text>
<line x1="575.67" y1="450.9" x2="575.67" y2="454.1" stroke="#2b2b2b" stroke-width="1"/>
<text x="575.67" y="463.6" font-size="8.3" font-family="'Liberation Serif', serif" fill="#000000" text-anchor="middle">16</text>
<line x1="594.87" y1="450.9" x2="594.87" y2="454.1" stroke="#2b2b2b" stroke-width="1"/>
<text x="594.87" y="463.6" font-size="8.3" font-family="'Liberation Serif', serif" fill="#000000" text-anchor="middle">18</text>
<line x1="614.08" y1="450.9" x2="614.08" y2="454.1" stroke="#2b2b2b" stroke-width="1"/>
<text x="614.08" y="463.6" font-size="8.3" font-family="'Liberation Serif', serif" fill="#000000" text-anchor="middle">20</text>
<line x1="633.29" y1="450.9" x2="633.29" y2="454.1" stroke="#2b2b2b" stroke-width="1"/>
<text x="633.29" y="463.6" font-size="8.3" font-family="'Liberation Serif', serif" fill="#000000" text-anchor="middle">22</text>
<line x1="652.5" y1="450.9" x2="652.5" y2="454.1" stroke="#2b2b2b" stroke-width="1"/>
<text x="652.5" y="463.6" font-size="8.3" font-family="'Liberation Serif', serif" fill="#000000" text-anchor="middle">24</text>
<line x1="431.61" y1="450.9" x2="431.61" y2="452.7" stroke="#2b2b2b" stroke-width="1"/>
<line x1="450.81" y1="450.9" x2="450.81" y2="452.7" stroke="#2b2b2b" stroke-width="1"/>
<line x1="470.02" y1="450.9" x2="470.02" y2="452.7" stroke="#2b2b2b" stroke-width="1"/>
<line x1="489.23" y1="450.9" x2="489.23" y2="452.7" stroke="#2b2b2b" stroke-width="1"/>
<line x1="508.44" y1="450.9" x2="508.44" y2="452.7" stroke="#2b2b2b" stroke-width="1"/>
<line x1="527.65" y1="450.9" x2="527.65" y2="452.7" stroke="#2b2b2b" stroke-width="1"/>
<line x1="546.85" y1="450.9" x2="546.85" y2="452.7" stroke="#2b2b2b" stroke-width="1"/>
<line x1="566.06" y1="450.9" x2="566.06" y2="452.7" stroke="#2b2b2b" stroke-width="1"/>
<line x1="585.27" y1="450.9" x2="585.27" y2="452.7" stroke="#2b2b2b" stroke-width="1"/>
<line x1="604.48" y1="450.9" x2="604.48" y2="452.7" stroke="#2b2b2b" stroke-width="1"/>
<line x1="623.69" y1="450.9" x2="623.69" y2="452.7" stroke="#2b2b2b" stroke-width="1"/>
<line x1="642.89" y1="450.9" x2="642.89" y2="452.7" stroke="#2b2b2b" stroke-width="1"/>
<rect x="428.5" y="279.9" width="18.2" height="8.8" fill="url(#gB)"/>
<line x1="428.5" y1="295.7" x2="446.7" y2="295.7" stroke="#ff2a2a" stroke-width="1.05" stroke-opacity="0.85"/>
<circle cx="437.6" cy="295.7" r="2.3" fill="url(#gM)"/>
<text x="448.77" y="287.3" font-size="8.3" font-family="'Liberation Serif', serif" fill="#000000" style="stroke-width:0.05px" textLength="3.86" lengthAdjust="spacingAndGlyphs">D</text>
<text x="453.04" y="287.3" font-size="8.3" font-family="'Liberation Serif', serif" fill="#000000" style="stroke-width:0.05px">e</text>
<text x="457.24" y="287.3" font-size="8.3" font-family="'Liberation Serif', serif" fill="#000000" style="stroke-width:0.05px">a</text>
<text x="461.76" y="287.3" font-size="8.3" font-family="'Liberation Serif', serif" fill="#000000" style="stroke-width:0.05px" textLength="3.02" lengthAdjust="spacingAndGlyphs">t</text>
<text x="465.53" y="287.3" font-size="8.3" font-family="'Liberation Serif', serif" fill="#000000" style="stroke-width:0.05px" textLength="3.86" lengthAdjust="spacingAndGlyphs">h</text>
<text x="474.33" y="287.3" font-size="8.3" font-family="'Liberation Serif', serif" fill="#000000" style="stroke-width:0.05px" textLength="3.02" lengthAdjust="spacingAndGlyphs">t</text>
<text x="478.11" y="287.3" font-size="8.3" font-family="'Liberation Serif', serif" fill="#000000" style="stroke-width:0.05px" textLength="3.86" lengthAdjust="spacingAndGlyphs">o</text>
<text x="482.72" y="287.3" font-size="8.3" font-family="'Liberation Serif', serif" fill="#000000" style="stroke-width:0.05px" textLength="3.02" lengthAdjust="spacingAndGlyphs">l</text>
<text x="486.91" y="287.3" font-size="8.3" font-family="'Liberation Serif', serif" fill="#000000" style="stroke-width:0.05px" textLength="3.02" lengthAdjust="spacingAndGlyphs">l</text>
<text x="494.87" y="287.3" font-size="8.3" font-family="'Liberation Serif', serif" fill="#000000" style="stroke-width:0.05px" textLength="3.86" lengthAdjust="spacingAndGlyphs">o</text>
<text x="499.48" y="287.3" font-size="8.3" font-family="'Liberation Serif', serif" fill="#000000" style="stroke-width:0.05px" textLength="3.02" lengthAdjust="spacingAndGlyphs">f</text>
<text x="507.53" y="287.3" font-size="8.3" font-family="'Liberation Serif', serif" fill="#000000" style="stroke-width:0.05px">a</text>
<text x="511.72" y="287.3" font-size="8.3" font-family="'Liberation Serif', serif" fill="#000000" style="stroke-width:0.05px">c</text>
<text x="515.91" y="287.3" font-size="8.3" font-family="'Liberation Serif', serif" fill="#000000" style="stroke-width:0.05px">c</text>
<text x="520.44" y="287.3" font-size="8.3" font-family="'Liberation Serif', serif" fill="#000000" style="stroke-width:0.05px" textLength="3.02" lengthAdjust="spacingAndGlyphs">i</text>
<text x="524.21" y="287.3" font-size="8.3" font-family="'Liberation Serif', serif" fill="#000000" style="stroke-width:0.05px" textLength="3.86" lengthAdjust="spacingAndGlyphs">d</text>
<text x="528.49" y="287.3" font-size="8.3" font-family="'Liberation Serif', serif" fill="#000000" style="stroke-width:0.05px">e</text>
<text x="532.59" y="287.3" font-size="8.3" font-family="'Liberation Serif', serif" fill="#000000" style="stroke-width:0.05px" textLength="3.86" lengthAdjust="spacingAndGlyphs">n</text>
<text x="537.2" y="287.3" font-size="8.3" font-family="'Liberation Serif', serif" fill="#000000" style="stroke-width:0.05px" textLength="3.02" lengthAdjust="spacingAndGlyphs">t</text>
<text x="541.29" y="287.3" font-size="8.3" font-family="'Liberation Serif', serif" fill="#000000" style="stroke-width:0.05px">s</text>
<text x="448.77" y="298.5" font-size="8.3" font-family="'Liberation Serif', serif" fill="#000000" style="stroke-width:0.05px" textLength="3.85" lengthAdjust="spacingAndGlyphs">N</text>
<text x="452.96" y="298.5" font-size="8.3" font-family="'Liberation Serif', serif" fill="#000000" style="stroke-width:0.05px" textLength="3.85" lengthAdjust="spacingAndGlyphs">u</text>
<text x="457.15" y="298.5" font-size="8.3" font-family="'Liberation Serif', serif" fill="#000000" style="stroke-width:0.05px" textLength="3.85" lengthAdjust="spacingAndGlyphs">m</text>
<text x="461.33" y="298.5" font-size="8.3" font-family="'Liberation Serif', serif" fill="#000000" style="stroke-width:0.05px" textLength="3.85" lengthAdjust="spacingAndGlyphs">b</text>
<text x="465.61" y="298.5" font-size="8.3" font-family="'Liberation Serif', serif" fill="#000000" style="stroke-width:0.05px">e</text>
<text x="470.13" y="298.5" font-size="8.3" font-family="'Liberation Serif', serif" fill="#000000" style="stroke-width:0.05px" textLength="3.02" lengthAdjust="spacingAndGlyphs">r</text>
<text x="478.09" y="298.5" font-size="8.3" font-family="'Liberation Serif', serif" fill="#000000" style="stroke-width:0.05px" textLength="3.85" lengthAdjust="spacingAndGlyphs">o</text>
<text x="482.7" y="298.5" font-size="8.3" font-family="'Liberation Serif', serif" fill="#000000" style="stroke-width:0.05px" textLength="3.02" lengthAdjust="spacingAndGlyphs">f</text>
<text x="490.74" y="298.5" font-size="8.3" font-family="'Liberation Serif', serif" fill="#000000" style="stroke-width:0.05px">a</text>
<text x="494.93" y="298.5" font-size="8.3" font-family="'Liberation Serif', serif" fill="#000000" style="stroke-width:0.05px">c</text>
<text x="499.12" y="298.5" font-size="8.3" font-family="'Liberation Serif', serif" fill="#000000" style="stroke-width:0.05px">c</text>
<text x="503.64" y="298.5" font-size="8.3" font-family="'Liberation Serif', serif" fill="#000000" style="stroke-width:0.05px" textLength="3.02" lengthAdjust="spacingAndGlyphs">i</text>
<text x="507.5" y="298.5" font-size="8.3" font-family="'Liberation Serif', serif" fill="#000000" style="stroke-width:0.05px">e</text>
<text x="511.6" y="298.5" font-size="8.3" font-family="'Liberation Serif', serif" fill="#000000" style="stroke-width:0.05px" textLength="3.85" lengthAdjust="spacingAndGlyphs">n</text>
<text x="516.21" y="298.5" font-size="8.3" font-family="'Liberation Serif', serif" fill="#000000" style="stroke-width:0.05px" textLength="3.02" lengthAdjust="spacingAndGlyphs">t</text>
<text x="520.29" y="298.5" font-size="8.3" font-family="'Liberation Serif', serif" fill="#000000" style="stroke-width:0.05px">s</text>
<text x="393.2" y="361.6" font-size="8.3" font-family="'Liberation Serif', serif" fill="#000000" text-anchor="middle" textLength="103.8" lengthAdjust="spacingAndGlyphs" transform="rotate(-90 393.2 361.6)">Death toll of accidents / person</text>
<text x="683.3" y="361.7" font-size="8.3" font-family="'Liberation Serif', serif" fill="#000000" text-anchor="middle" textLength="70.4" lengthAdjust="spacingAndGlyphs" transform="rotate(-90 683.3 361.7)">Number of accidents</text>
<text x="658.56" y="464.2" font-size="8.4" font-family="'Liberation Serif', serif" fill="#000000" style="stroke-width:0.05px" textLength="3.73" lengthAdjust="spacingAndGlyphs">C</text>
<text x="663.02" y="464.2" font-size="8.4" font-family="'Liberation Serif', serif" fill="#000000" style="stroke-width:0.05px" textLength="2.92" lengthAdjust="spacingAndGlyphs">l</text>
<text x="666.66" y="464.2" font-size="8.4" font-family="'Liberation Serif', serif" fill="#000000" style="stroke-width:0.05px" textLength="3.73" lengthAdjust="spacingAndGlyphs">o</text>
<text x="670.71" y="464.2" font-size="8.4" font-family="'Liberation Serif', serif" fill="#000000" style="stroke-width:0.05px">c</text>
<text x="674.76" y="464.2" font-size="8.4" font-family="'Liberation Serif', serif" fill="#000000" style="stroke-width:0.05px" textLength="3.73" lengthAdjust="spacingAndGlyphs">k</text>
<text x="379.5" y="257.5" font-size="17.8" font-family="'Liberation Serif', serif" fill="#000000" font-weight="bold" style="stroke:none">(d)</text>
<rect x="53.61" y="583.19" width="17.3" height="136.21" fill="url(#gT)"/>
<rect x="87.92" y="588.99" width="17.3" height="130.41" fill="url(#gT)"/>
<rect x="122.24" y="597.2" width="17.3" height="122.2" fill="url(#gT)"/>
<rect x="156.55" y="573.21" width="17.3" height="146.19" fill="url(#gT)"/>
<rect x="190.86" y="585.61" width="17.3" height="133.79" fill="url(#gT)"/>
<rect x="225.18" y="572.09" width="17.3" height="147.31" fill="url(#gT)"/>
<rect x="259.49" y="603.96" width="17.3" height="115.44" fill="url(#gT)"/>
<polyline points="62.26,631.49 96.57,628.6 130.89,630.53 165.2,613.14 199.51,616.04 233.83,607.34 268.14,637.29" fill="none" stroke="#ff2a2a" stroke-width="1.05" stroke-opacity="0.85" stroke-linejoin="round"/>
<circle cx="62.26" cy="631.49" r="2.3" fill="url(#gM)"/>
<circle cx="96.57" cy="628.6" r="2.3" fill="url(#gM)"/>
<circle cx="130.89" cy="630.53" r="2.3" fill="url(#gM)"/>
<circle cx="165.2" cy="613.14" r="2.3" fill="url(#gM)"/>
<circle cx="199.51" cy="616.04" r="2.3" fill="url(#gM)"/>
<circle cx="233.83" cy="607.34" r="2.3" fill="url(#gM)"/>
<circle cx="268.14" cy="637.29" r="2.3" fill="url(#gM)"/>
<rect x="45.1" y="526.2" width="240.2" height="193.2" fill="none" stroke="#6a6a6a" stroke-width="1.25"/>
<text x="40.8" y="722.43" font-size="8.9" font-family="'Liberation Serif', serif" fill="#000000" text-anchor="end">0</text>
<line x1="45.1" y1="703.3" x2="47.1" y2="703.3" stroke="#2b2b2b" stroke-width="1"/>
<line x1="45.1" y1="687.2" x2="48.7" y2="687.2" stroke="#2b2b2b" stroke-width="1"/>
<text x="40.8" y="690.23" font-size="8.9" font-family="'Liberation Serif', serif" fill="#000000" text-anchor="end">200</text>
<line x1="45.1" y1="671.1" x2="47.1" y2="671.1" stroke="#2b2b2b" stroke-width="1"/>
<line x1="45.1" y1="655" x2="48.7" y2="655" stroke="#2b2b2b" stroke-width="1"/>
<text x="40.8" y="658.03" font-size="8.9" font-family="'Liberation Serif', serif" fill="#000000" text-anchor="end">400</text>
<line x1="45.1" y1="638.9" x2="47.1" y2="638.9" stroke="#2b2b2b" stroke-width="1"/>
<line x1="45.1" y1="622.8" x2="48.7" y2="622.8" stroke="#2b2b2b" stroke-width="1"/>
<text x="40.8" y="625.83" font-size="8.9" font-family="'Liberation Serif', serif" fill="#000000" text-anchor="end">600</text>
<line x1="45.1" y1="606.7" x2="47.1" y2="606.7" stroke="#2b2b2b" stroke-width="1"/>
<line x1="45.1" y1="590.6" x2="48.7" y2="590.6" stroke="#2b2b2b" stroke-width="1"/>
<text x="40.8" y="593.63" font-size="8.9" font-family="'Liberation Serif', serif" fill="#000000" text-anchor="end">800</text>
<line x1="45.1" y1="574.5" x2="47.1" y2="574.5" stroke="#2b2b2b" stroke-width="1"/>
<line x1="45.1" y1="558.4" x2="48.7" y2="558.4" stroke="#2b2b2b" stroke-width="1"/>
<text x="40.8" y="561.43" font-size="8.9" font-family="'Liberation Serif', serif" fill="#000000" text-anchor="end">1000</text>
<line x1="45.1" y1="542.3" x2="47.1" y2="542.3" stroke="#2b2b2b" stroke-width="1"/>
<text x="40.8" y="529.23" font-size="8.9" font-family="'Liberation Serif', serif" fill="#000000" text-anchor="end">1200</text>
<text x="289.4" y="722.43" font-size="8.9" font-family="'Liberation Serif', serif" fill="#000000">100</text>
<line x1="285.3" y1="695.25" x2="283.3" y2="695.25" stroke="#2b2b2b" stroke-width="1"/>
<line x1="285.3" y1="671.1" x2="281.7" y2="671.1" stroke="#2b2b2b" stroke-width="1"/>
<text x="289.4" y="674.13" font-size="8.9" font-family="'Liberation Serif', serif" fill="#000000">150</text>
<line x1="285.3" y1="646.95" x2="283.3" y2="646.95" stroke="#2b2b2b" stroke-width="1"/>
<line x1="285.3" y1="622.8" x2="281.7" y2="622.8" stroke="#2b2b2b" stroke-width="1"/>
<text x="289.4" y="625.83" font-size="8.9" font-family="'Liberation Serif', serif" fill="#000000">200</text>
<line x1="285.3" y1="598.65" x2="283.3" y2="598.65" stroke="#2b2b2b" stroke-width="1"/>
<line x1="285.3" y1="574.5" x2="281.7" y2="574.5" stroke="#2b2b2b" stroke-width="1"/>
<text x="289.4" y="577.53" font-size="8.9" font-family="'Liberation Serif', serif" fill="#000000">250</text>
<line x1="285.3" y1="550.35" x2="283.3" y2="550.35" stroke="#2b2b2b" stroke-width="1"/>
<text x="289.4" y="529.23" font-size="8.9" font-family="'Liberation Serif', serif" fill="#000000">300</text>
<line x1="62.26" y1="719.4" x2="62.26" y2="722.6" stroke="#2b2b2b" stroke-width="1"/>
<text x="55.32" y="733.4" font-size="9" font-family="'Liberation Serif', serif" fill="#000000" style="stroke-width:0.05px" textLength="4.37" lengthAdjust="spacingAndGlyphs">M</text>
<text x="60.07" y="733.4" font-size="9" font-family="'Liberation Serif', serif" fill="#000000" style="stroke-width:0.05px" textLength="4.37" lengthAdjust="spacingAndGlyphs">o</text>
<text x="64.82" y="733.4" font-size="9" font-family="'Liberation Serif', serif" fill="#000000" style="stroke-width:0.05px" textLength="4.37" lengthAdjust="spacingAndGlyphs">n</text>
<line x1="96.57" y1="719.4" x2="96.57" y2="722.6" stroke="#2b2b2b" stroke-width="1"/>
<text x="89.64" y="733.4" font-size="9" font-family="'Liberation Serif', serif" fill="#000000" style="stroke-width:0.05px" textLength="4.37" lengthAdjust="spacingAndGlyphs">T</text>
<text x="94.39" y="733.4" font-size="9" font-family="'Liberation Serif', serif" fill="#000000" style="stroke-width:0.05px" textLength="4.37" lengthAdjust="spacingAndGlyphs">u</text>
<text x="99.32" y="733.4" font-size="9" font-family="'Liberation Serif', serif" fill="#000000" style="stroke-width:0.05px">e</text>
<line x1="130.89" y1="719.4" x2="130.89" y2="722.6" stroke="#2b2b2b" stroke-width="1"/>
<text x="123.95" y="733.4" font-size="9" font-family="'Liberation Serif', serif" fill="#000000" style="stroke-width:0.05px" textLength="4.37" lengthAdjust="spacingAndGlyphs">W</text>
<text x="128.89" y="733.4" font-size="9" font-family="'Liberation Serif', serif" fill="#000000" style="stroke-width:0.05px">e</text>
<text x="133.45" y="733.4" font-size="9" font-family="'Liberation Serif', serif" fill="#000000" style="stroke-width:0.05px" textLength="4.37" lengthAdjust="spacingAndGlyphs">d</text>
<line x1="165.2" y1="719.4" x2="165.2" y2="722.6" stroke="#2b2b2b" stroke-width="1"/>
<text x="158.27" y="733.4" font-size="9" font-family="'Liberation Serif', serif" fill="#000000" style="stroke-width:0.05px" textLength="4.37" lengthAdjust="spacingAndGlyphs">T</text>
<text x="163.02" y="733.4" font-size="9" font-family="'Liberation Serif', serif" fill="#000000" style="stroke-width:0.05px" textLength="4.37" lengthAdjust="spacingAndGlyphs">h</text>
<text x="167.77" y="733.4" font-size="9" font-family="'Liberation Serif', serif" fill="#000000" style="stroke-width:0.05px" textLength="4.37" lengthAdjust="spacingAndGlyphs">u</text>
<line x1="199.51" y1="719.4" x2="199.51" y2="722.6" stroke="#2b2b2b" stroke-width="1"/>
<text x="192.58" y="733.4" font-size="9" font-family="'Liberation Serif', serif" fill="#000000" style="stroke-width:0.05px" textLength="4.37" lengthAdjust="spacingAndGlyphs">F</text>
<text x="197.8" y="733.4" font-size="9" font-family="'Liberation Serif', serif" fill="#000000" style="stroke-width:0.05px" textLength="3.42" lengthAdjust="spacingAndGlyphs">r</text>
<text x="202.55" y="733.4" font-size="9" font-family="'Liberation Serif', serif" fill="#000000" style="stroke-width:0.05px" textLength="3.42" lengthAdjust="spacingAndGlyphs">i</text>
<line x1="233.83" y1="719.4" x2="233.83" y2="722.6" stroke="#2b2b2b" stroke-width="1"/>
<text x="226.89" y="733.4" font-size="9" font-family="'Liberation Serif', serif" fill="#000000" style="stroke-width:0.05px" textLength="4.37" lengthAdjust="spacingAndGlyphs">S</text>
<text x="231.83" y="733.4" font-size="9" font-family="'Liberation Serif', serif" fill="#000000" style="stroke-width:0.05px">a</text>
<text x="236.87" y="733.4" font-size="9" font-family="'Liberation Serif', serif" fill="#000000" style="stroke-width:0.05px" textLength="3.42" lengthAdjust="spacingAndGlyphs">t</text>
<line x1="268.14" y1="719.4" x2="268.14" y2="722.6" stroke="#2b2b2b" stroke-width="1"/>
<text x="261.21" y="733.4" font-size="9" font-family="'Liberation Serif', serif" fill="#000000" style="stroke-width:0.05px" textLength="4.37" lengthAdjust="spacingAndGlyphs">S</text>
<text x="265.96" y="733.4" font-size="9" font-family="'Liberation Serif', serif" fill="#000000" style="stroke-width:0.05px" textLength="4.37" lengthAdjust="spacingAndGlyphs">u</text>
<text x="270.71" y="733.4" font-size="9" font-family="'Liberation Serif', serif" fill="#000000" style="stroke-width:0.05px" textLength="4.37" lengthAdjust="spacingAndGlyphs">n</text>
<line x1="93.14" y1="526.2" x2="93.14" y2="529.2" stroke="#2b2b2b" stroke-width="1"/>
<line x1="141.18" y1="526.2" x2="141.18" y2="529.2" stroke="#2b2b2b" stroke-width="1"/>
<line x1="189.22" y1="526.2" x2="189.22" y2="529.2" stroke="#2b2b2b" stroke-width="1"/>
<line x1="237.26" y1="526.2" x2="237.26" y2="529.2" stroke="#2b2b2b" stroke-width="1"/>
<rect x="62" y="535.3" width="20.2" height="9.6" fill="url(#gT)"/>
<line x1="62" y1="552.8" x2="82.7" y2="552.8" stroke="#ff2a2a" stroke-width="1.05" stroke-opacity="0.85"/>
<circle cx="72.35" cy="552.8" r="2.3" fill="url(#gM)"/>
<text x="84.4" y="543.1" font-size="9" font-family="'Liberation Serif', serif" fill="#000000" textLength="81.4" lengthAdjust="spacingAndGlyphs">Death toll of accidents</text>
<text x="84.4" y="555.4" font-size="9" font-family="'Liberation Serif', serif" fill="#000000" textLength="75.3" lengthAdjust="spacingAndGlyphs">Number of accidents</text>
<text x="20.3" y="622" font-size="8.9" font-family="'Liberation Serif', serif" fill="#000000" text-anchor="middle" textLength="107.8" lengthAdjust="spacingAndGlyphs" transform="rotate(-90 20.3 622)">Death toll of accidents/person</text>
<text x="313.8" y="622.6" font-size="8.9" font-family="'Liberation Serif', serif" fill="#000000" text-anchor="middle" textLength="75.7" lengthAdjust="spacingAndGlyphs" transform="rotate(-90 313.8 622.6)">Number of accidents</text>
<text x="2" y="502.9" font-size="17.8" font-family="'Liberation Serif', serif" fill="#000000" font-weight="bold" style="stroke:none">(e)</text>
<rect x="409.84" y="598" width="17.9" height="113.4" fill="url(#gT)"/>
<rect x="444.21" y="610.93" width="17.9" height="100.47" fill="url(#gT)"/>
<rect x="478.58" y="596.13" width="17.9" height="115.27" fill="url(#gT)"/>
<rect x="512.95" y="589.89" width="17.9" height="121.51" fill="url(#gT)"/>
<rect x="547.32" y="601.92" width="17.9" height="109.48" fill="url(#gT)"/>
<rect x="581.69" y="588.73" width="17.9" height="122.67" fill="url(#gT)"/>
<rect x="616.06" y="574.51" width="17.9" height="136.89" fill="url(#gT)"/>
<polyline points="418.79,615.71 453.16,622.25 487.53,628.19 521.9,594.32 556.27,619.28 590.64,629.38 625.01,597.29" fill="none" stroke="#ff2a2a" stroke-width="1.05" stroke-opacity="0.85" stroke-linejoin="round"/>
<circle cx="418.79" cy="615.71" r="2.3" fill="url(#gM)"/>
<circle cx="453.16" cy="622.25" r="2.3" fill="url(#gM)"/>
<circle cx="487.53" cy="628.19" r="2.3" fill="url(#gM)"/>
<circle cx="521.9" cy="594.32" r="2.3" fill="url(#gM)"/>
<circle cx="556.27" cy="619.28" r="2.3" fill="url(#gM)"/>
<circle cx="590.64" cy="629.38" r="2.3" fill="url(#gM)"/>
<circle cx="625.01" cy="597.29" r="2.3" fill="url(#gM)"/>
<rect x="401.6" y="533.1" width="240.6" height="178.3" fill="none" stroke="#6a6a6a" stroke-width="1.25"/>
<text x="397.8" y="714.22" font-size="8.3" font-family="'Liberation Serif', serif" fill="#000000" text-anchor="end">0</text>
<line x1="401.6" y1="689.11" x2="403.6" y2="689.11" stroke="#2b2b2b" stroke-width="1"/>
<line x1="401.6" y1="666.83" x2="405.2" y2="666.83" stroke="#2b2b2b" stroke-width="1"/>
<text x="397.8" y="669.65" font-size="8.3" font-family="'Liberation Serif', serif" fill="#000000" text-anchor="end">1000</text>
<line x1="401.6" y1="644.54" x2="403.6" y2="644.54" stroke="#2b2b2b" stroke-width="1"/>
<line x1="401.6" y1="622.25" x2="405.2" y2="622.25" stroke="#2b2b2b" stroke-width="1"/>
<text x="397.8" y="625.07" font-size="8.3" font-family="'Liberation Serif', serif" fill="#000000" text-anchor="end">2000</text>
<line x1="401.6" y1="599.96" x2="403.6" y2="599.96" stroke="#2b2b2b" stroke-width="1"/>
<line x1="401.6" y1="577.67" x2="405.2" y2="577.67" stroke="#2b2b2b" stroke-width="1"/>
<text x="397.8" y="580.5" font-size="8.3" font-family="'Liberation Serif', serif" fill="#000000" text-anchor="end">3000</text>
<line x1="401.6" y1="555.39" x2="403.6" y2="555.39" stroke="#2b2b2b" stroke-width="1"/>
<text x="397.8" y="535.92" font-size="8.3" font-family="'Liberation Serif', serif" fill="#000000" text-anchor="end">4000</text>
<text x="645.2" y="714.22" font-size="8.3" font-family="'Liberation Serif', serif" fill="#000000">200</text>
<line x1="642.2" y1="681.68" x2="640.2" y2="681.68" stroke="#2b2b2b" stroke-width="1"/>
<line x1="642.2" y1="651.97" x2="638.6" y2="651.97" stroke="#2b2b2b" stroke-width="1"/>
<text x="645.2" y="654.79" font-size="8.3" font-family="'Liberation Serif', serif" fill="#000000">300</text>
<line x1="642.2" y1="622.25" x2="640.2" y2="622.25" stroke="#2b2b2b" stroke-width="1"/>
<line x1="642.2" y1="592.53" x2="638.6" y2="592.53" stroke="#2b2b2b" stroke-width="1"/>
<text x="645.2" y="595.36" font-size="8.3" font-family="'Liberation Serif', serif" fill="#000000">400</text>
<line x1="642.2" y1="562.82" x2="640.2" y2="562.82" stroke="#2b2b2b" stroke-width="1"/>
<text x="645.2" y="535.92" font-size="8.3" font-family="'Liberation Serif', serif" fill="#000000">500</text>
<line x1="418.79" y1="711.4" x2="418.79" y2="714.6" stroke="#2b2b2b" stroke-width="1"/>
<text x="418.79" y="724.5" font-size="8.3" font-family="'Liberation Serif', serif" fill="#000000" text-anchor="middle">Mon</text>
<line x1="453.16" y1="711.4" x2="453.16" y2="714.6" stroke="#2b2b2b" stroke-width="1"/>
<text x="453.16" y="724.5" font-size="8.3" font-family="'Liberation Serif', serif" fill="#000000" text-anchor="middle">Tue</text>
<line x1="487.53" y1="711.4" x2="487.53" y2="714.6" stroke="#2b2b2b" stroke-width="1"/>
<text x="487.53" y="724.5" font-size="8.3" font-family="'Liberation Serif', serif" fill="#000000" text-anchor="middle">Wed</text>
<line x1="521.9" y1="711.4" x2="521.9" y2="714.6" stroke="#2b2b2b" stroke-width="1"/>
<text x="521.9" y="724.5" font-size="8.3" font-family="'Liberation Serif', serif" fill="#000000" text-anchor="middle">Thu</text>
<line x1="556.27" y1="711.4" x2="556.27" y2="714.6" stroke="#2b2b2b" stroke-width="1"/>
<text x="556.27" y="724.5" font-size="8.3" font-family="'Liberation Serif', serif" fill="#000000" text-anchor="middle">Fri</text>
<line x1="590.64" y1="711.4" x2="590.64" y2="714.6" stroke="#2b2b2b" stroke-width="1"/>
<text x="590.64" y="724.5" font-size="8.3" font-family="'Liberation Serif', serif" fill="#000000" text-anchor="middle">Sat</text>
<line x1="625.01" y1="711.4" x2="625.01" y2="714.6" stroke="#2b2b2b" stroke-width="1"/>
<text x="625.01" y="724.5" font-size="8.3" font-family="'Liberation Serif', serif" fill="#000000" text-anchor="middle">Sun</text>
<rect x="526.7" y="539.9" width="18.4" height="8.2" fill="url(#gT)"/>
<line x1="526.7" y1="554.8" x2="545.4" y2="554.8" stroke="#ff2a2a" stroke-width="1.05" stroke-opacity="0.85"/>
<circle cx="536.05" cy="554.8" r="2.3" fill="url(#gM)"/>
<text x="547.1" y="546.9" font-size="8.3" font-family="'Liberation Serif', serif" fill="#000000" textLength="78.5" lengthAdjust="spacingAndGlyphs">Death tolls of accidents</text>
<text x="547.1" y="557.8" font-size="8.3" font-family="'Liberation Serif', serif" fill="#000000" textLength="69.4" lengthAdjust="spacingAndGlyphs">Number of accidents</text>
<text x="378.3" y="622" font-size="8.3" font-family="'Liberation Serif', serif" fill="#000000" text-anchor="middle" textLength="107.8" lengthAdjust="spacingAndGlyphs" transform="rotate(-90 378.3 622)">Death tolls of accidents / person</text>
<text x="668.3" y="622.5" font-size="8.3" font-family="'Liberation Serif', serif" fill="#000000" text-anchor="middle" textLength="70" lengthAdjust="spacingAndGlyphs" transform="rotate(-90 668.3 622.5)">Number of accidents</text>
<text x="378.8" y="511.5" font-size="17.8" font-family="'Liberation Serif', serif" fill="#000000" font-weight="bold" style="stroke:none">(f)</text></svg>
</body></html>
